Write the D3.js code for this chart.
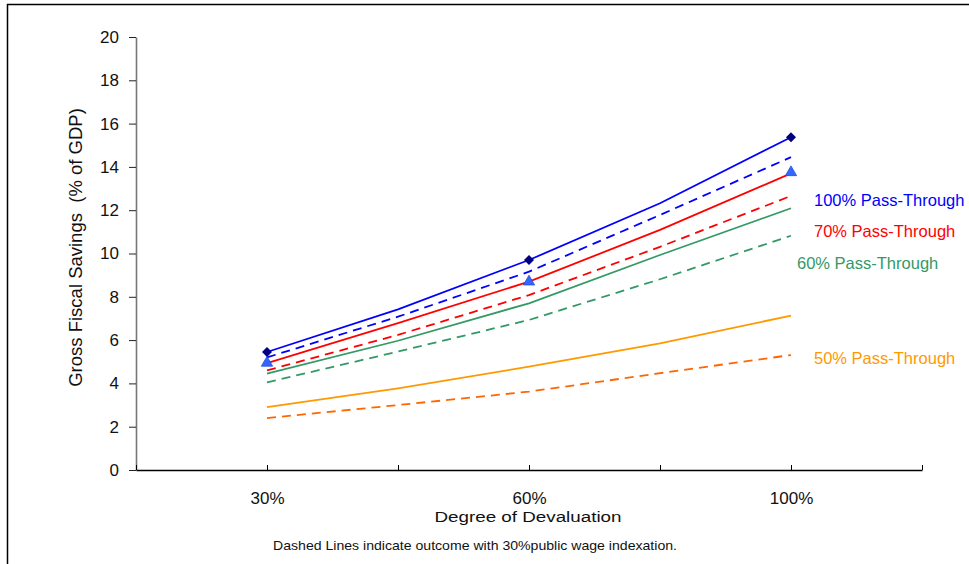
<!DOCTYPE html>
<html>
<head>
<meta charset="utf-8">
<script src="https://cdn.jsdelivr.net/npm/d3@7"></script>
<style>
  html, body { margin: 0; padding: 0; background: #fff; }
  svg { display: block; font-family: "Liberation Sans", Arial, sans-serif; }
</style>
</head>
<body>
<svg id="chart" width="969" height="564"></svg>
<script>
// ---- data ----
const xPositions = [1, 1.5, 2, 2.5, 3];          // 1 = 30%, 2 = 60%, 3 = 100% devaluation
const xTickLabels = ["30%", "60%", "100%"];
const xLabelPositions = [1, 2, 3];
const yTicks = [0, 2, 4, 6, 8, 10, 12, 14, 16, 18, 20];

const pt100Solid  = [5.45, 7.42, 9.70, 12.32, 15.37];
const pt100Dashed = [5.20, 7.08, 9.16, 11.78, 14.45];
const pt70Solid   = [4.94, 6.78, 8.70, 11.09, 13.70];
const pt70Dashed  = [4.60, 6.24, 8.08, 10.31, 12.66];
const pt60Solid   = [4.45, 5.97, 7.70, 9.93, 12.09];
const pt60Dashed  = [4.05, 5.47, 6.93, 8.81, 10.82];
const pt50Solid   = [2.90, 3.77, 4.77, 5.85, 7.13];
const pt50Dashed  = [2.40, 3.00, 3.62, 4.47, 5.31];

const diamondValues  = [5.45, 9.70, 15.37];
const triangleValues = [4.90, 8.65, 13.70];

const seriesLabels = ["100% Pass-Through", "70% Pass-Through", "60% Pass-Through", "50% Pass-Through"];
const yTitle = "Gross Fiscal Savings  (% of GDP)";
const xTitle = "Degree of Devaluation";
const note = "Dashed Lines indicate outcome with 30%public wage indexation.";

// ---- chart ----
const svg = d3.select("#chart");

svg.append("rect").attr("x", 7.5).attr("y", 4.5).attr("width", 1000).attr("height", 1000)
  .attr("fill", "none").attr("stroke", "#000").attr("stroke-width", 1.5);

const x = d3.scaleLinear().domain([0.5, 3.5]).range([136, 922]);
const y = d3.scaleLinear().domain([0, 20]).range([470, 37]);

// y axis
const yAxis = svg.append("g").attr("transform", "translate(136,0)")
  .call(d3.axisLeft(y).tickValues(yTicks).tickSizeInner(7).tickSizeOuter(0).tickPadding(10).tickFormat(d3.format("d")));
yAxis.select(".domain").attr("stroke", "#777").attr("stroke-width", 1.6);
yAxis.selectAll(".tick line").attr("stroke", "#222");
yAxis.selectAll("text").attr("font-size", 17).attr("fill", "#111").attr("font-family", "Liberation Sans, Arial, sans-serif");

// x axis
const xTickVals = [0.5, 1, 1.5, 2, 2.5, 3, 3.5];
const xAxis = svg.append("g").attr("transform", "translate(0,470)")
  .call(d3.axisBottom(x).tickValues(xTickVals).tickSizeInner(-5).tickSizeOuter(0)
    .tickFormat(d => { const i = xLabelPositions.indexOf(d); return i >= 0 ? xTickLabels[i] : ""; }));
xAxis.select(".domain").attr("stroke", "#000").attr("stroke-width", 1.3);
xAxis.selectAll(".tick line").attr("stroke", "#000");
xAxis.selectAll("text").attr("y", 33.5).attr("dy", 0).attr("font-size", 17).attr("fill", "#111")
  .attr("font-family", "Liberation Sans, Arial, sans-serif");

// titles
svg.append("text").attr("transform", "translate(82,247.5) rotate(-90)")
  .attr("text-anchor", "middle").attr("font-size", 18.5).attr("fill", "#111")
  .style("white-space", "pre").attr("xml:space", "preserve").text(yTitle);
svg.append("text").attr("x", 528).attr("y", 522).attr("text-anchor", "middle")
  .attr("font-size", 15.5).attr("fill", "#111")
  .attr("textLength", 187).attr("lengthAdjust", "spacingAndGlyphs").text(xTitle);
svg.append("text").attr("x", 475).attr("y", 550).attr("text-anchor", "middle")
  .attr("font-size", 13).attr("fill", "#111")
  .attr("textLength", 404).attr("lengthAdjust", "spacingAndGlyphs").text(note);

// lines
const line = d3.line().x((d, i) => x(xPositions[i])).y(d => y(d));
const series = [
  { values: pt50Dashed,  color: "#FF6600", dash: "9,6" },
  { values: pt50Solid,   color: "#FF9900", dash: null },
  { values: pt60Dashed,  color: "#339966", dash: "9,6" },
  { values: pt60Solid,   color: "#339966", dash: null },
  { values: pt70Dashed,  color: "#FF0000", dash: "9,6" },
  { values: pt70Solid,   color: "#FF0000", dash: null },
  { values: pt100Dashed, color: "#0000FF", dash: "9,6" },
  { values: pt100Solid,  color: "#0000FF", dash: null }
];
svg.append("g").selectAll("path").data(series).join("path")
  .attr("d", d => line(d.values))
  .attr("fill", "none").attr("stroke", d => d.color).attr("stroke-width", 1.8)
  .attr("stroke-dasharray", d => d.dash);

// markers
svg.append("g").selectAll("path").data(triangleValues).join("path")
  .attr("d", d3.symbol().type(d3.symbolTriangle).size(55))
  .attr("transform", (d, i) => `translate(${x(xLabelPositions[i])},${y(d) - 1})`)
  .attr("fill", "#3366FF").attr("stroke", "#1f4fe0").attr("stroke-width", 0.8);
svg.append("g").selectAll("path").data(diamondValues).join("path")
  .attr("d", d3.symbol().type(d3.symbolSquare).size(50))
  .attr("transform", (d, i) => `translate(${x(xLabelPositions[i])},${y(d)}) rotate(45)`)
  .attr("fill", "#000080");

// series labels
const labelSpecs = [
  { text: seriesLabels[0], color: "#0000FF", x: 814, y: 206 },
  { text: seriesLabels[1], color: "#FF0000", x: 814, y: 237 },
  { text: seriesLabels[2], color: "#339966", x: 797, y: 269 },
  { text: seriesLabels[3], color: "#FF9900", x: 814, y: 364 }
];
svg.append("g").selectAll("text").data(labelSpecs).join("text")
  .attr("x", d => d.x).attr("y", d => d.y).attr("fill", d => d.color)
  .attr("font-size", 16.5).text(d => d.text);
</script>
</body>
</html>
